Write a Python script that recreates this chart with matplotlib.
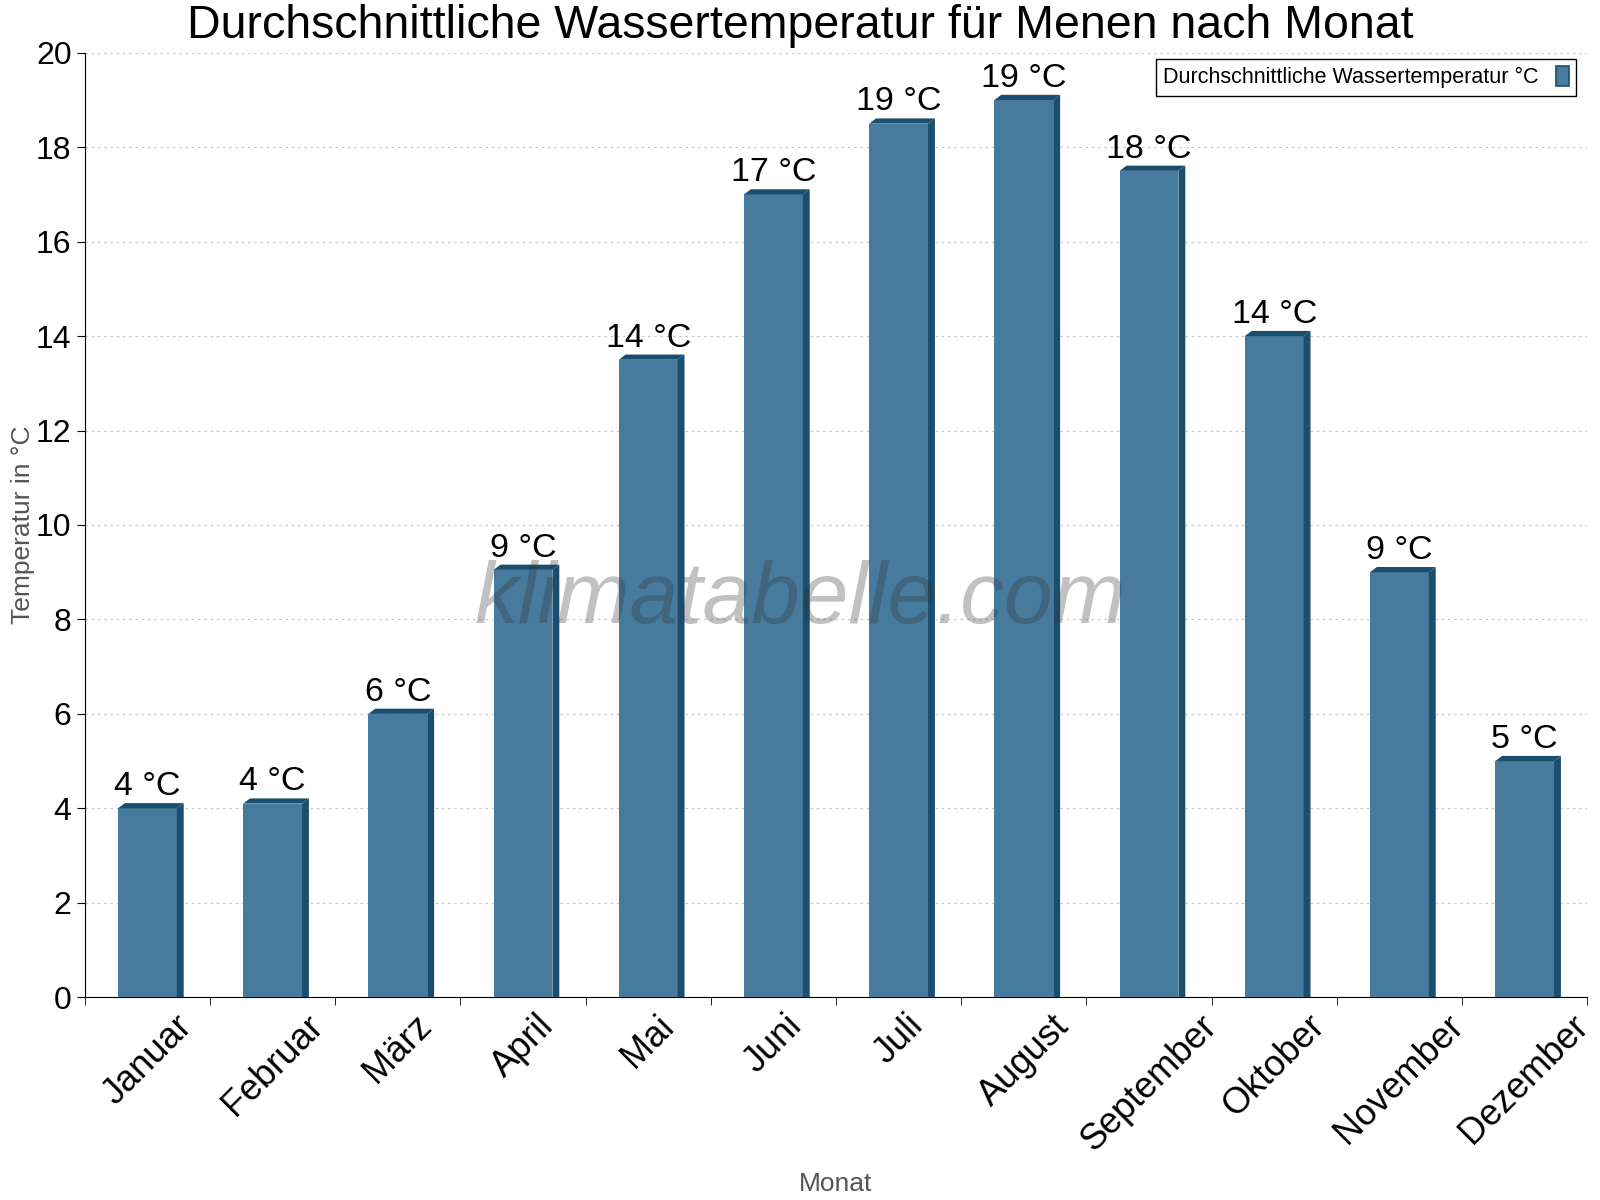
import numpy as np
import matplotlib
matplotlib.use("Agg")
import matplotlib.pyplot as plt
from matplotlib.patches import Polygon, Patch

months = ["Januar", "Februar", "März", "April", "Mai", "Juni", "Juli",
          "August", "September", "Oktober", "November", "Dezember"]
water_temp = [4.0, 4.1, 6.0, 9.05, 13.5, 17.0, 18.5, 19.0, 17.5, 14.0, 9.0, 5.0]
yticks = [0, 2, 4, 6, 8, 10, 12, 14, 16, 18, 20]

front = "#467b9d"
dark = "#1b4d6e"

plt.rcParams['font.family'] = ['Liberation Sans', 'DejaVu Sans']

fig = plt.figure(figsize=(16, 12), dpi=100)
ax = fig.add_axes([0.053, 0.169, 0.939, 0.787])

x = np.arange(len(months))
w = 0.47
dx, dy = 0.055, 0.11

ax.bar(x, water_temp, width=w, color=front, zorder=3)
for xi, v in zip(x, water_temp):
    x0, x1 = xi - w / 2, xi + w / 2
    top = Polygon([(x0, v), (x1, v), (x1 + dx, v + dy), (x0 + dx, v + dy)],
                  closed=True, facecolor=dark, edgecolor="none", zorder=3)
    side = Polygon([(x1, 0), (x1 + dx, 0), (x1 + dx, v + dy), (x1, v)],
                   closed=True, facecolor=dark, edgecolor="none", zorder=3)
    ax.add_patch(top)
    ax.add_patch(side)
    label = int(np.floor(v + 0.5))
    ax.text(xi, v + dy + 0.02, f"{label} °C", ha="center", va="bottom",
            fontsize=24.5, zorder=5)

ax.set_xlim(-0.5, len(months) - 0.5)
ax.set_ylim(0, 20)
ax.set_yticks(yticks)
ax.tick_params(axis="y", labelsize=23, length=6, direction="out")
ax.set_xticks(x)
ax.set_xticklabels(months, rotation=45, fontsize=26)
ax.tick_params(axis="x", which="major", length=0, pad=8)
ax.set_xticks(np.arange(-0.5, len(months)), minor=True)
ax.tick_params(axis="x", which="minor", length=6, direction="out")

ax.grid(axis="y", linestyle=(0, (2, 3)), color="#c8c8c8", linewidth=0.9, zorder=0)
ax.set_axisbelow(True)
for s in ["top", "right"]:
    ax.spines[s].set_visible(False)

ax.set_ylabel("Temperatur in °C", fontsize=19, color="#555555", labelpad=1)
ax.set_xlabel("Monat", fontsize=19, color="#555555", labelpad=10)
fig.text(0.5, 0.978, "Durchschnittliche Wassertemperatur für Menen nach Monat",
         ha="center", va="center", fontsize=33.5)

ax.text(0.476, 0.42, "klimatabelle.com", transform=ax.transAxes, ha="center",
        va="center", fontsize=63, style="italic", color="#333333", alpha=0.3,
        zorder=6)

handle = Patch(facecolor=front, edgecolor=dark, linewidth=1.2)
leg = ax.legend([handle], ["Durchschnittliche Wassertemperatur °C"], loc="upper right",
                markerfirst=False, fancybox=False, edgecolor="black", framealpha=1,
                fontsize=15.5, handlelength=0.6, handleheight=1.0, borderpad=0.35,
                bbox_to_anchor=(1.0, 1.005))
leg.get_frame().set_linewidth(1.0)

fig.savefig("out.png", dpi=100)
